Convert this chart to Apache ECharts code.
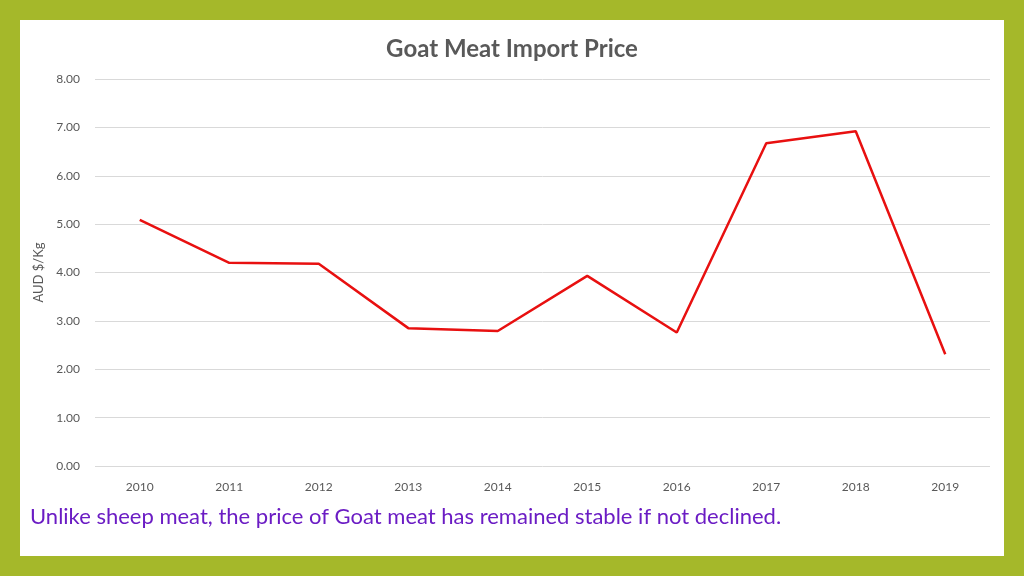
<!DOCTYPE html>
<html><head><meta charset="utf-8">
<script src="https://cdn.jsdelivr.net/npm/echarts@6/dist/echarts.min.js"></script>
<style>
html,body{margin:0;padding:0;width:1024px;height:576px;background:#A5B82A;overflow:hidden;}
#c{position:absolute;left:20px;top:20px;width:984px;height:536px;background:#fff;}
</style></head><body>
<div id="c"></div>
<script>
const years = ['2010','2011','2012','2013','2014','2015','2016','2017','2018','2019'];
const prices = [5.09, 4.20, 4.18, 2.85, 2.79, 3.93, 2.76, 6.67, 6.92, 2.31];
const titleText = 'Goat Meat Import Price';
const yAxisName = 'AUD $/Kg';
const caption = 'Unlike sheep meat, the price of Goat meat has remained stable if not declined.';
const chart = echarts.init(document.getElementById('c'));
const font = 'Lato, "Open Sans", sans-serif';
chart.setOption({
  animation:false,
  title:{text:titleText,left:'center',top:12,textStyle:{fontFamily:font,fontSize:24,fontWeight:'bold',color:'#595959'}},
  grid:{left:75,right:14,top:59,bottom:90},
  xAxis:{type:'category',data:years,boundaryGap:true,
    axisLine:{show:false},axisTick:{show:false},
    axisLabel:{color:'#595959',fontFamily:font,fontSize:12,margin:15}},
  yAxis:{type:'value',min:0,max:8,interval:1,
    name:yAxisName,nameLocation:'middle',nameGap:48,
    nameTextStyle:{color:'#595959',fontFamily:font,fontSize:13},
    axisLine:{show:false},axisTick:{show:false},
    axisLabel:{color:'#595959',fontFamily:font,fontSize:12,margin:15,formatter:v=>v.toFixed(2)},
    splitLine:{lineStyle:{color:'#d9d9d9',width:1}}},
  series:[{type:'line',data:prices,symbol:'none',lineStyle:{color:'#E81010',width:2.5},itemStyle:{color:'#E81010'}}],
  graphic:[{type:'text',left:10,top:486,style:{text:caption,fill:'#6B1CC4',font:'22px Lato, "Open Sans", sans-serif'}}]
});
</script></body></html>
